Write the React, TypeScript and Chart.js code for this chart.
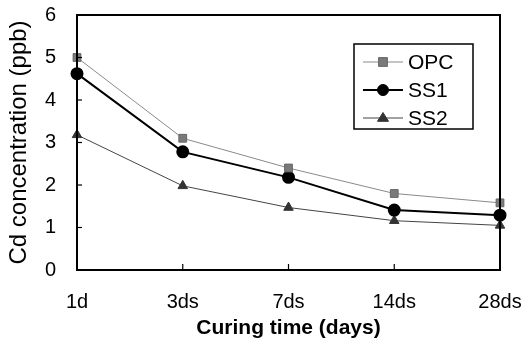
import React, { useEffect, useRef } from "react";
import { Chart, registerables } from "chart.js";

Chart.register(...registerables);

const categories = ["1d", "3ds", "7ds", "14ds", "28ds"];
const opc = [5.0, 3.1, 2.4, 1.8, 1.58];
const ss1 = [4.62, 2.78, 2.18, 1.41, 1.29];
const ss2 = [3.18, 1.98, 1.47, 1.16, 1.05];
const yTicks = [0, 1, 2, 3, 4, 5, 6];

const FONT = "'Liberation Sans', Arial, sans-serif";

const framePlugin = {
  id: "frame",
  afterDraw(chart: any) {
    const { ctx, chartArea } = chart;
    const { left, right, top, bottom } = chartArea;
    const xs = chart.scales.x;
    const ys = chart.scales.y;
    ctx.save();
    ctx.strokeStyle = "#000";
    ctx.lineWidth = 2;
    ctx.strokeRect(left, top, right - left, bottom - top);
    ctx.lineWidth = 1.2;
    yTicks.forEach((v) => {
      const y = ys.getPixelForValue(v);
      ctx.beginPath();
      ctx.moveTo(left, y);
      ctx.lineTo(left + 5, y);
      ctx.stroke();
    });
    categories.forEach((_, i) => {
      const x = xs.getPixelForValue(i);
      ctx.beginPath();
      ctx.moveTo(x, bottom);
      ctx.lineTo(x, bottom - 6);
      ctx.stroke();
    });
    const lx = 354, ly = 44, lw = 119, lh = 85;
    ctx.fillStyle = "#fff";
    ctx.fillRect(lx, ly, lw, lh);
    ctx.lineWidth = 1.5;
    ctx.strokeStyle = "#000";
    ctx.strokeRect(lx, ly, lw, lh);
    const rows = [62, 90, 118];
    chart.data.datasets.forEach((ds: any, i: number) => {
      const y = rows[i];
      ctx.strokeStyle = ds.borderColor;
      ctx.lineWidth = ds.borderWidth;
      ctx.beginPath();
      ctx.moveTo(363, y);
      ctx.lineTo(403, y);
      ctx.stroke();
      ctx.fillStyle = ds.pointBackgroundColor;
      ctx.strokeStyle = ds.pointBorderColor;
      ctx.lineWidth = 1;
      const r = ds.pointRadius;
      const cx = 383;
      ctx.beginPath();
      if (ds.pointStyle === "circle") {
        ctx.arc(cx, y, r, 0, Math.PI * 2);
      } else if (ds.pointStyle === "rect") {
        ctx.rect(cx - r * 0.8, y - r * 0.8, r * 1.6, r * 1.6);
      } else {
        ctx.moveTo(cx, y - r);
        ctx.lineTo(cx + r, y + r * 0.6);
        ctx.lineTo(cx - r, y + r * 0.6);
        ctx.closePath();
      }
      ctx.fill();
      ctx.stroke();
      ctx.fillStyle = "#000";
      ctx.font = `21px ${FONT}`;
      ctx.textBaseline = "middle";
      ctx.textAlign = "left";
      ctx.fillText(ds.label, 408, y + 1);
    });
    ctx.restore();
  },
};

export default function App() {
  const ref = useRef<HTMLCanvasElement>(null);
  useEffect(() => {
    if (!ref.current) return;
    const chart = new Chart(ref.current, {
      type: "line",
      data: {
        labels: categories,
        datasets: [
          {
            label: "OPC",
            data: opc,
            borderColor: "#8a8a8a",
            borderWidth: 1,
            pointStyle: "rect",
            pointRadius: 5.5,
            pointBackgroundColor: "#7a7a7a",
            pointBorderColor: "#666",
            tension: 0,
          },
          {
            label: "SS1",
            data: ss1,
            borderColor: "#000",
            borderWidth: 2,
            pointStyle: "circle",
            pointRadius: 5.5,
            pointBackgroundColor: "#000",
            pointBorderColor: "#000",
            tension: 0,
          },
          {
            label: "SS2",
            data: ss2,
            borderColor: "#444",
            borderWidth: 1,
            pointStyle: "triangle",
            pointRadius: 5.5,
            pointBackgroundColor: "#333",
            pointBorderColor: "#333",
            tension: 0,
          },
        ] as any,
      },
      options: {
        responsive: false,
        animation: false,
        layout: { padding: { top: 15, right: 28, left: 0, bottom: 0 } },
        plugins: { legend: { display: false }, tooltip: { enabled: false } },
        scales: {
          x: {
            type: "category",
            offset: false,
            grid: { display: false, drawTicks: false },
            border: { display: false },
            ticks: {
              color: "#000",
              font: { family: FONT, size: 20 },
              padding: 20,
              maxRotation: 0,
              autoSkip: false,
            },
            title: {
              display: true,
              text: "Curing time (days)",
              color: "#000",
              font: { family: FONT, size: 21, weight: "bold" },
              padding: { top: 0, bottom: 4 },
            },
            afterFit(scale: any) {
              scale.height = 75;
              scale.paddingLeft = 0;
              scale.paddingRight = 0;
            },
          },
          y: {
            min: 0,
            max: 6,
            grid: { display: false, drawTicks: false },
            border: { display: false },
            afterBuildTicks(scale: any) {
              scale.ticks = yTicks.map((v) => ({ value: v }));
            },
            ticks: {
              color: "#000",
              font: { family: FONT, size: 20 },
              padding: 21,
            },
            title: {
              display: true,
              text: "Cd concentration (ppb)",
              color: "#000",
              font: { family: FONT, size: 24 },
              padding: { top: 5, bottom: 0 },
            },
            afterFit(scale: any) {
              scale.width = 77;
              scale.paddingTop = 0;
              scale.paddingBottom = 0;
            },
          },
        },
      },
      plugins: [framePlugin],
    });
    return () => chart.destroy();
  }, []);
  return (
    <div style={{ position: "fixed", left: 0, top: 0, width: 528, height: 345, background: "#fff" }}>
      <canvas ref={ref} width={528} height={345} />
    </div>
  );
}
